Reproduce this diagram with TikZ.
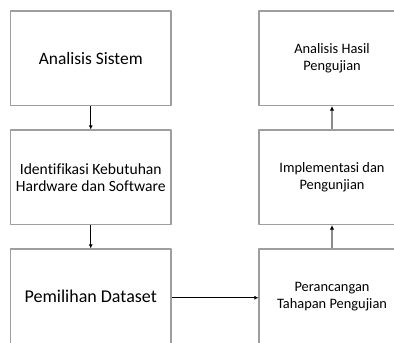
\documentclass[tikz,border=0pt]{standalone}
\usepackage{fontspec}
\setmainfont{Carlito}[Ligatures=CommonOff]
\usetikzlibrary{arrows.meta}
\tikzset{
	kotak/.style={draw=black!38, line width=1.2pt, inner sep=0pt, align=center,
		minimum width=160.5pt, minimum height=94.5pt, font=\fontsize{15.6}{16.8}\selectfont},
	kotakkanan/.style={kotak, minimum width=146pt, font=\fontsize{14.4}{17}\selectfont},
	panah/.style={-{Latex[length=4pt,width=4pt]}, line width=0.7pt},
	panahabu/.style={-{Latex[length=4.5pt,width=4.5pt,color=black]}, line width=1.1pt, draw=black!45}
}
\begin{document}
\begin{tikzpicture}[x=1pt, y=-1pt, line join=round]
	\useasboundingbox (0,0) rectangle (394,343);
	\clip (0,0) rectangle (394,343);
	% kolom kiri
	\node[kotak, font=\fontsize{17.4}{18}\selectfont] (analisis) at (90.75,58.25) {Analisis Sistem};
	\node[kotak] (identifikasi) at (90.75,177.25) {Identifikasi Kebutuhan\\Hardware dan Software};
	\node[kotak, font=\fontsize{18}{18}\selectfont] (dataset) at (90.75,296.25) {Pemilihan Dataset};
	% kolom kanan
	\node[kotakkanan] (hasil) at (332,58.25) {Analisis Hasil\\Pengujian};
	\node[kotakkanan] (implementasi) at (332,177.25) {Implementasi dan\\Pengunjian};
	\node[kotakkanan] (perancangan) at (332,296.25) {Perancangan\\Tahapan Pengujian};
	% panah
	\draw[panah] (analisis) -- (identifikasi);
	\draw[panah] (identifikasi) -- (dataset);
	\draw[panah] ([yshift=-1.5pt]dataset.east) -- ([yshift=-1.5pt]perancangan.west);
	\draw[panahabu] (perancangan) -- (implementasi);
	\draw[panahabu] (implementasi) -- (hasil);
\end{tikzpicture}
\end{document}
